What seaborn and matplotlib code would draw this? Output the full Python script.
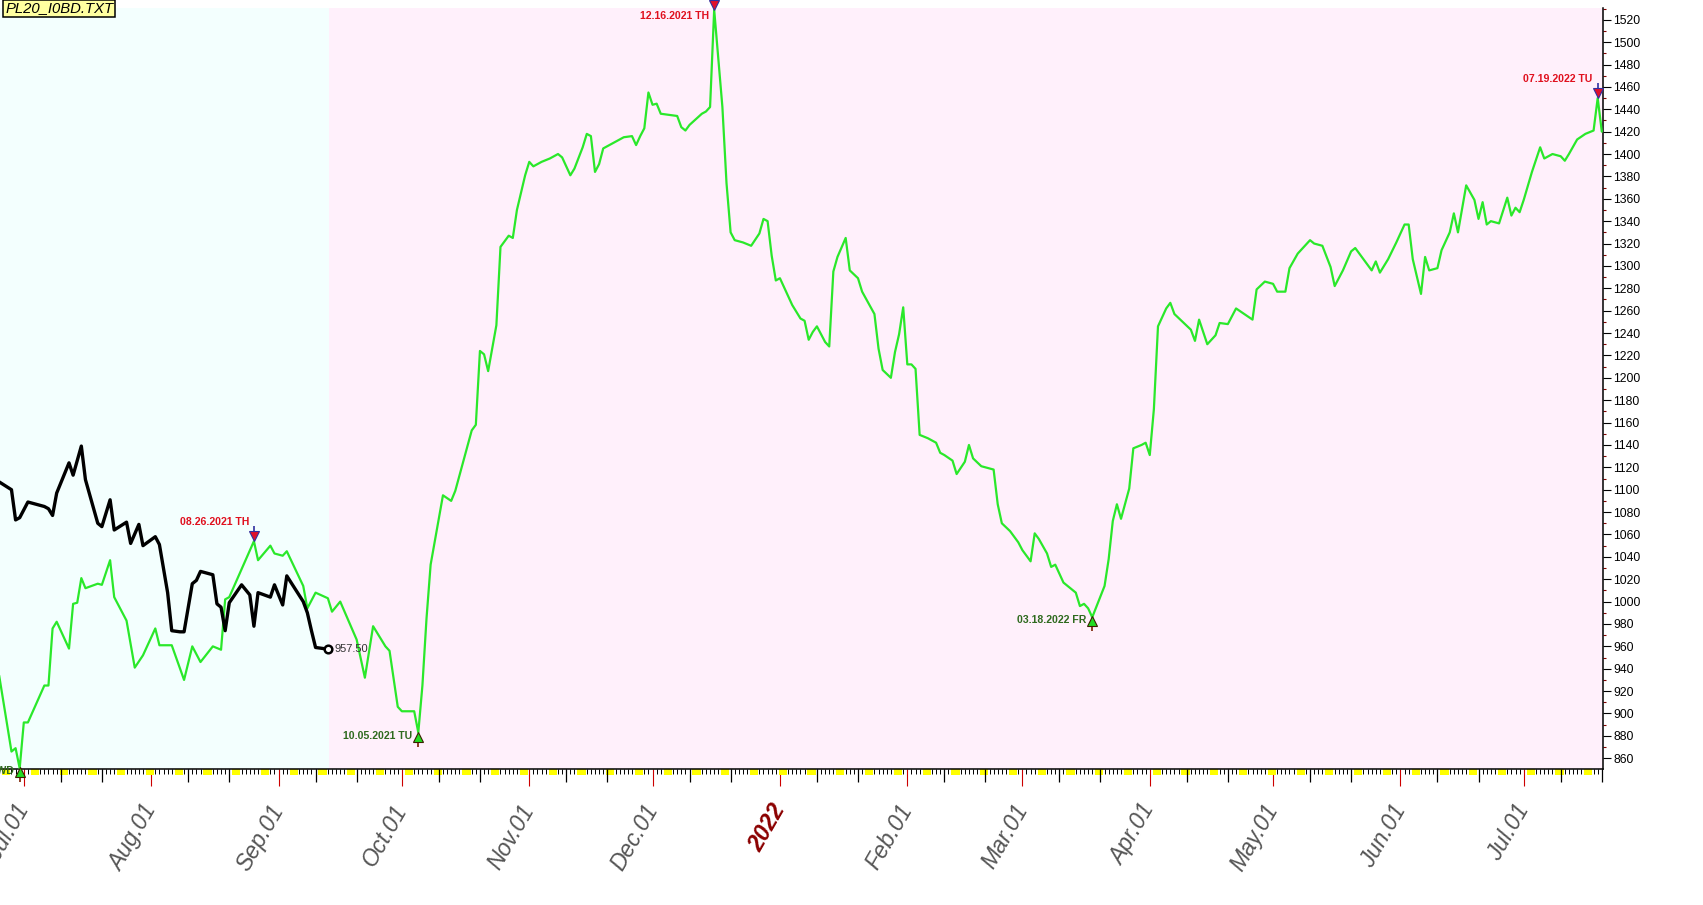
import matplotlib
matplotlib.use('Agg')
import matplotlib.pyplot as plt
import matplotlib.dates as mdates
import matplotlib.transforms as mtransforms
from matplotlib.ticker import MultipleLocator
import pandas as pd
import seaborn as sns

# seasonal pattern (green) and actual price (black)
green_dates = [
    '2021-06-25', '2021-06-28', '2021-06-29', '2021-06-30', '2021-07-01', '2021-07-02', '2021-07-06',
    '2021-07-07', '2021-07-08', '2021-07-09', '2021-07-12', '2021-07-13', '2021-07-14', '2021-07-15',
    '2021-07-16', '2021-07-19', '2021-07-20', '2021-07-22', '2021-07-23', '2021-07-26', '2021-07-28',
    '2021-07-30', '2021-08-02', '2021-08-03', '2021-08-06', '2021-08-09', '2021-08-11', '2021-08-13',
    '2021-08-16', '2021-08-18', '2021-08-19', '2021-08-20', '2021-08-26', '2021-08-27', '2021-08-30',
    '2021-08-31', '2021-09-02', '2021-09-03', '2021-09-07', '2021-09-08', '2021-09-10', '2021-09-13',
    '2021-09-14', '2021-09-16', '2021-09-20', '2021-09-22', '2021-09-24', '2021-09-27', '2021-09-28',
    '2021-09-30', '2021-10-01', '2021-10-04', '2021-10-05', '2021-10-06', '2021-10-07', '2021-10-08',
    '2021-10-11', '2021-10-13', '2021-10-14', '2021-10-16', '2021-10-18', '2021-10-19', '2021-10-20',
    '2021-10-21', '2021-10-22', '2021-10-24', '2021-10-25', '2021-10-27', '2021-10-28', '2021-10-29',
    '2021-10-31', '2021-11-01', '2021-11-02', '2021-11-04', '2021-11-06', '2021-11-08', '2021-11-09',
    '2021-11-11', '2021-11-12', '2021-11-14', '2021-11-15', '2021-11-16', '2021-11-17', '2021-11-18',
    '2021-11-19', '2021-11-22', '2021-11-24', '2021-11-26', '2021-11-27', '2021-11-28', '2021-11-29',
    '2021-11-30', '2021-12-01', '2021-12-02', '2021-12-03', '2021-12-05', '2021-12-07', '2021-12-08',
    '2021-12-09', '2021-12-10', '2021-12-13', '2021-12-14', '2021-12-15', '2021-12-16', '2021-12-18',
    '2021-12-19', '2021-12-20', '2021-12-21', '2021-12-23', '2021-12-25', '2021-12-27', '2021-12-28',
    '2021-12-29', '2021-12-30', '2021-12-31', '2022-01-01', '2022-01-02', '2022-01-04', '2022-01-06',
    '2022-01-07', '2022-01-08', '2022-01-09', '2022-01-10', '2022-01-12', '2022-01-13', '2022-01-14',
    '2022-01-15', '2022-01-17', '2022-01-18', '2022-01-20', '2022-01-21', '2022-01-24', '2022-01-25',
    '2022-01-26', '2022-01-28', '2022-01-29', '2022-01-30', '2022-01-31', '2022-02-01', '2022-02-02',
    '2022-02-03', '2022-02-04', '2022-02-06', '2022-02-08', '2022-02-09', '2022-02-10', '2022-02-12',
    '2022-02-13', '2022-02-15', '2022-02-16', '2022-02-17', '2022-02-19', '2022-02-21', '2022-02-22',
    '2022-02-23', '2022-02-24', '2022-02-26', '2022-02-28', '2022-03-01', '2022-03-03', '2022-03-04',
    '2022-03-05', '2022-03-07', '2022-03-08', '2022-03-09', '2022-03-11', '2022-03-12', '2022-03-14',
    '2022-03-15', '2022-03-16', '2022-03-17', '2022-03-18', '2022-03-21', '2022-03-22', '2022-03-23',
    '2022-03-24', '2022-03-25', '2022-03-27', '2022-03-28', '2022-03-30', '2022-03-31', '2022-04-01',
    '2022-04-02', '2022-04-03', '2022-04-05', '2022-04-06', '2022-04-07', '2022-04-09', '2022-04-11',
    '2022-04-12', '2022-04-13', '2022-04-14', '2022-04-15', '2022-04-17', '2022-04-18', '2022-04-20',
    '2022-04-22', '2022-04-24', '2022-04-26', '2022-04-27', '2022-04-29', '2022-05-01', '2022-05-02',
    '2022-05-04', '2022-05-05', '2022-05-07', '2022-05-10', '2022-05-11', '2022-05-13', '2022-05-15',
    '2022-05-16', '2022-05-18', '2022-05-20', '2022-05-21', '2022-05-22', '2022-05-24', '2022-05-25',
    '2022-05-26', '2022-05-27', '2022-05-29', '2022-05-31', '2022-06-02', '2022-06-03', '2022-06-04',
    '2022-06-06', '2022-06-07', '2022-06-08', '2022-06-10', '2022-06-11', '2022-06-13', '2022-06-14',
    '2022-06-15', '2022-06-17', '2022-06-19', '2022-06-20', '2022-06-21', '2022-06-22', '2022-06-23',
    '2022-06-25', '2022-06-27', '2022-06-28', '2022-06-29', '2022-06-30', '2022-07-01', '2022-07-03',
    '2022-07-05', '2022-07-06', '2022-07-08', '2022-07-10', '2022-07-11', '2022-07-12', '2022-07-14',
    '2022-07-16', '2022-07-18', '2022-07-19', '2022-07-20',
]
green_values = [
    934, 866, 869, 851, 892, 892, 925,
    925, 976, 982, 958, 998, 999, 1021,
    1012, 1016, 1015, 1037, 1004, 983, 941,
    952, 976, 961, 961, 930, 960, 946,
    960, 957, 1002, 1004, 1054, 1037, 1050,
    1043, 1041, 1045, 1014, 994, 1008, 1003,
    991, 1000, 966, 932, 978, 960, 956,
    906, 902, 902, 883, 925, 985, 1033,
    1095, 1090, 1099, 1126, 1153, 1158, 1224,
    1221, 1206, 1247, 1317, 1327, 1325, 1350,
    1381, 1393, 1389, 1393, 1396, 1400, 1397,
    1381, 1387, 1406, 1418, 1416, 1384, 1391,
    1405, 1411, 1415, 1416, 1408, 1416, 1423,
    1455, 1444, 1445, 1436, 1435, 1434, 1424,
    1421, 1426, 1436, 1438, 1442, 1529, 1442,
    1374, 1330, 1323, 1321, 1318, 1329, 1342,
    1340, 1309, 1287, 1289, 1281, 1265, 1253,
    1251, 1234, 1241, 1246, 1232, 1228, 1295,
    1308, 1325, 1296, 1289, 1277, 1257, 1226,
    1207, 1200, 1223, 1239, 1263, 1212, 1212,
    1208, 1149, 1146, 1142, 1133, 1131, 1126,
    1114, 1125, 1140, 1128, 1121, 1119, 1118,
    1087, 1070, 1063, 1053, 1046, 1036, 1061,
    1056, 1043, 1031, 1033, 1017, 1014, 1008,
    996, 998, 994, 986, 1014, 1038, 1072,
    1087, 1074, 1101, 1137, 1140, 1142, 1131,
    1172, 1246, 1262, 1267, 1257, 1250, 1243,
    1233, 1252, 1241, 1230, 1238, 1249, 1248,
    1262, 1257, 1252, 1279, 1286, 1284, 1277,
    1277, 1298, 1311, 1323, 1320, 1318, 1299,
    1282, 1296, 1313, 1316, 1311, 1301, 1296,
    1304, 1294, 1306, 1321, 1337, 1337, 1306,
    1275, 1308, 1296, 1298, 1314, 1330, 1347,
    1330, 1372, 1359, 1342, 1357, 1337, 1340,
    1338, 1361, 1345, 1352, 1348, 1359, 1384,
    1406, 1396, 1400, 1398, 1394, 1400, 1413,
    1418, 1421, 1450, 1420,
]

black_dates = [
    '2021-06-25', '2021-06-28', '2021-06-29', '2021-06-30', '2021-07-02', '2021-07-06', '2021-07-07',
    '2021-07-08', '2021-07-09', '2021-07-12', '2021-07-13', '2021-07-15', '2021-07-16', '2021-07-19',
    '2021-07-20', '2021-07-22', '2021-07-23', '2021-07-26', '2021-07-27', '2021-07-29', '2021-07-30',
    '2021-08-02', '2021-08-03', '2021-08-05', '2021-08-06', '2021-08-08', '2021-08-09', '2021-08-11',
    '2021-08-12', '2021-08-13', '2021-08-16', '2021-08-17', '2021-08-18', '2021-08-19', '2021-08-20',
    '2021-08-23', '2021-08-25', '2021-08-26', '2021-08-27', '2021-08-30', '2021-08-31', '2021-09-02',
    '2021-09-03', '2021-09-07', '2021-09-08', '2021-09-09', '2021-09-10', '2021-09-12', '2021-09-13',
]
black_values = [
    1107, 1100, 1073, 1075, 1089, 1085, 1083,
    1077, 1097, 1124, 1113, 1139, 1109, 1070,
    1067, 1091, 1064, 1071, 1052, 1069, 1050,
    1058, 1051, 1008, 974, 973, 973, 1016,
    1019, 1027, 1024, 998, 995, 974, 999,
    1015, 1006, 978, 1008, 1004, 1015, 997,
    1023, 1000, 990, 974, 959, 958, 957.5,
]

high_dates = ['2021-08-26', '2021-12-16', '2022-07-19']
high_labels = ['08.26.2021 TH', '12.16.2021 TH', '07.19.2022 TU']
low_dates = ['2021-06-30', '2021-10-05', '2022-03-18']
low_labels = ['06.30.2021 WD', '10.05.2021 TU', '03.18.2022 FR']

month_ticks = ['2021-07-01', '2021-08-01', '2021-09-01', '2021-10-01', '2021-11-01', '2021-12-01',
               '2022-01-01', '2022-02-01', '2022-03-01', '2022-04-01', '2022-05-01', '2022-06-01',
               '2022-07-01']
month_labels = ['Jul.01', 'Aug.01', 'Sep.01', 'Oct.01', 'Nov.01', 'Dec.01', '2022',
                'Feb.01', 'Mar.01', 'Apr.01', 'May.01', 'Jun.01', 'Jul.01']
y_ticks = list(range(860, 1521, 20))
file_name = 'PL20_I0BD.TXT'

sns.set_style('white')
plt.rcParams['font.family'] = ['Liberation Sans', 'DejaVu Sans']

green = pd.DataFrame({'date': pd.to_datetime(green_dates), 'value': green_values})
black = pd.DataFrame({'date': pd.to_datetime(black_dates), 'value': black_values})

fig = plt.figure(figsize=(17.03, 9.05), dpi=100)
ax = fig.add_axes([0, 1 - 769 / 905, 1603 / 1703, 761 / 905])

x_left = green['date'].iloc[0] + pd.Timedelta(hours=5)
x_right = green['date'].iloc[-1] + pd.Timedelta(hours=7)
split = black['date'].iloc[-1] + pd.Timedelta(hours=7)

# shaded history / projection regions
ax.axvspan(x_left, split, color='#F3FFFE', zorder=0, lw=0)
ax.axvspan(split, x_right, color='#FFF0FB', zorder=0, lw=0)

sns.lineplot(data=green, x='date', y='value', ax=ax, color='#2AE82A', linewidth=1.6, zorder=3)
sns.lineplot(data=black, x='date', y='value', ax=ax, color='black', linewidth=2.4, zorder=4)

ax.set_xlim(x_left, x_right)
ax.set_ylim(850.4, 1530.5)
ax.set(xlabel='', ylabel='')

# end point of actual price
last = black.iloc[-1]
ax.plot(last['date'], last['value'], 'o', ms=5.5, mfc='white', mec='black', mew=1.8, zorder=5)
ax.text(last['date'], last['value'], f"{last['value']:.2f}", fontsize=8, color='#333333',
        va='center', ha='left',
        transform=mtransforms.offset_copy(ax.transData, fig=fig, x=7, y=0, units='dots'))

# y axis on the right
ax.yaxis.tick_right()
ax.set_yticks(y_ticks)
ax.yaxis.set_minor_locator(MultipleLocator(10))
ax.tick_params(axis='y', which='major', right=True, length=5.8, width=0.8, color='black',
               labelsize=8.7, labelcolor='black', pad=1.5)
ax.tick_params(axis='y', which='minor', right=True, length=2.5, width=0.8, color='#800000')

# x axis ticks: month starts red, daily minor
ax.xaxis.set_major_locator(mdates.MonthLocator())
ax.xaxis.set_minor_locator(mdates.DayLocator())
ax.tick_params(axis='x', which='major', bottom=True, length=12.2, width=0.8, color='#CC0000',
               labelbottom=False)
ax.tick_params(axis='x', which='minor', bottom=True, length=3.6, width=0.7, color='black')

for side in ['left', 'top']:
    ax.spines[side].set_visible(False)
for side in ['right', 'bottom']:
    ax.spines[side].set_color('black')
    ax.spines[side].set_linewidth(1.1)

days = pd.date_range(x_left.normalize(), x_right, freq='D')
xtrans = ax.get_xaxis_transform()
tick_h = 761.0
# weekend markers under the axis
for d in days[days.dayofweek == 5]:
    ax.axvspan(d - pd.Timedelta(hours=7), d + pd.Timedelta(hours=41), ymin=-6 / tick_h, ymax=0,
               color='#FFFF00', lw=0, clip_on=False, zorder=1)
# 10th and 20th of month
mid = days[(days.day == 10) | (days.day == 20)]
ax.vlines(mid, -13 / tick_h, 0, transform=xtrans, colors='black', lw=0.9, clip_on=False)

# month labels
lbl_off = mtransforms.ScaledTranslation(0, -0.37, fig.dpi_scale_trans)
for d, lbl in zip(pd.to_datetime(month_ticks), month_labels):
    is_year = lbl.isdigit()
    ax.text(d, 0, lbl, transform=xtrans + lbl_off, rotation=60, rotation_mode='anchor',
            ha='right', va='center', fontsize=16.5, style='italic',
            color='#8B0000' if is_year else '#555555',
            fontweight='bold' if is_year else 'normal', clip_on=False)

# turning point markers
gser = green.set_index('date')['value']
top_disp = ax.transAxes.transform((0, 1))[1]
for d, lbl in zip(pd.to_datetime(high_dates), high_labels):
    v = gser[d]
    ax.plot(d, v, marker='|', ms=6, mew=1.2, color='#3030A0', clip_on=False, zorder=6,
            transform=mtransforms.offset_copy(ax.transData, fig=fig, x=0, y=11, units='dots'))
    ax.plot(d, v, marker='v', ms=6.5, mfc='#E0102A', mec='#3030A0', mew=0.8, clip_on=False, zorder=6,
            transform=mtransforms.offset_copy(ax.transData, fig=fig, x=0, y=5, units='dots'))
    px, py = ax.transData.transform((mdates.date2num(d), v))
    ty = min(py + 19, top_disp - 8)
    tx, ty = ax.transData.inverted().transform((px - 5, ty))
    ax.text(tx, ty, lbl, ha='right', va='center', fontsize=7.6, fontweight='bold', color='#E0101E',
            clip_on=False, zorder=6)

for d, lbl in zip(pd.to_datetime(low_dates), low_labels):
    v = gser[d]
    ax.plot(d, v, marker='|', ms=6, mew=1.2, color='#7A2000', clip_on=False, zorder=6,
            transform=mtransforms.offset_copy(ax.transData, fig=fig, x=0, y=-10, units='dots'))
    ax.plot(d, v, marker='^', ms=6.5, mfc='#22DD22', mec='#3A2000', mew=0.8, clip_on=False, zorder=6,
            transform=mtransforms.offset_copy(ax.transData, fig=fig, x=0, y=-4, units='dots'))
    ax.text(d, v, lbl, ha='right', va='center', fontsize=7.6, fontweight='bold', color='#2E6A1E',
            clip_on=False, zorder=6,
            transform=mtransforms.offset_copy(ax.transData, fig=fig, x=-6, y=-3, units='dots'))

fig.text(0.003, 1 - 1.5 / 905, file_name, ha='left', va='top', fontsize=10.7, style='italic',
         color='black', bbox=dict(boxstyle='square,pad=0.12', fc='#FFFFA0', ec='black', lw=1.1))

fig.savefig('out.png', dpi=100, facecolor='white')
